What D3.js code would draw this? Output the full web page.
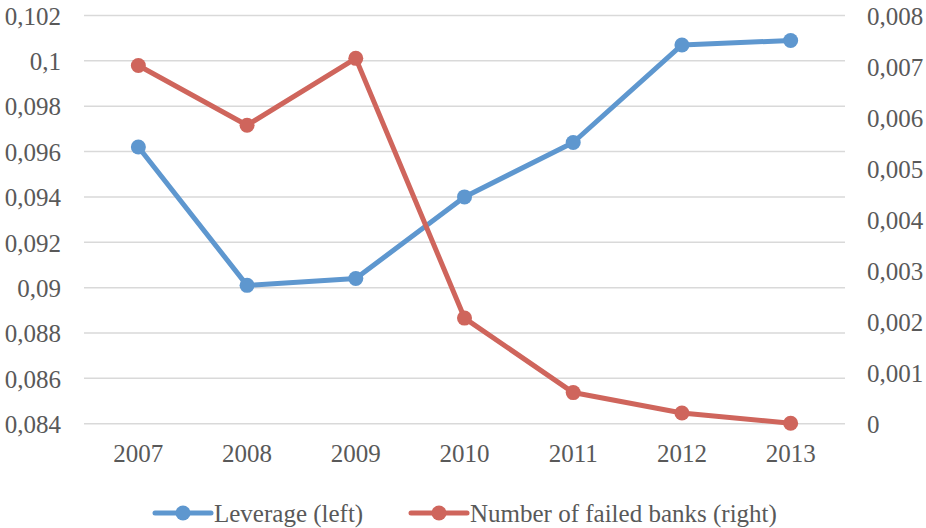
<!DOCTYPE html>
<html>
<head>
<meta charset="utf-8">
<script src="https://cdn.jsdelivr.net/npm/d3@7"></script>
<style>
    body { margin: 0; background: #fff; }
    text { font-family: "Liberation Serif", "DejaVu Serif", serif; fill: #595959; }
</style>
</head>
<body>
<div id="chart"></div>
<script>
// chart data
const years = ["2007", "2008", "2009", "2010", "2011", "2012", "2013"];
const leverage = [0.0962, 0.0901, 0.0904, 0.0940, 0.0964, 0.1007, 0.1009];
const failedBanks = [0.00702, 0.00585, 0.00716, 0.00207, 0.00061, 0.00021, 0.00001];
const leftTicks = [0.084, 0.086, 0.088, 0.09, 0.092, 0.094, 0.096, 0.098, 0.1, 0.102];
const rightTicks = [0, 0.001, 0.002, 0.003, 0.004, 0.005, 0.006, 0.007, 0.008];
const seriesNames = ["Leverage (left)", "Number of failed banks (right)"];

const width = 926, height = 528;
const margin = { top: 15.5, right: 81, bottom: 104.3, left: 84 };
const blue = "#5e97cf", red = "#cf655c";
const fontSize = 25;

const svg = d3.select("#chart").append("svg")
    .attr("width", width)
    .attr("height", height);

const x = d3.scaleBand()
    .domain(years)
    .range([margin.left, width - margin.right]);

const yLeft = d3.scaleLinear()
    .domain([0.084, 0.102])
    .range([height - margin.bottom, margin.top]);

const yRight = d3.scaleLinear()
    .domain([0, 0.008])
    .range([height - margin.bottom, margin.top]);

const fmt = d => String(+d.toFixed(3)).replace(".", ",");

// gridlines
svg.append("g")
    .selectAll("line")
    .data(leftTicks)
    .enter().append("line")
    .attr("x1", margin.left)
    .attr("x2", width - margin.right)
    .attr("y1", d => yLeft(d))
    .attr("y2", d => yLeft(d))
    .attr("stroke", "#d9d9d9")
    .attr("stroke-width", 1.5);

// left axis
const leftAxis = svg.append("g")
    .attr("transform", "translate(" + (margin.left - 23) + ",0)")
    .call(d3.axisLeft(yLeft).tickValues(leftTicks).tickFormat(fmt).tickSize(0).tickPadding(0));
leftAxis.select(".domain").remove();
leftAxis.selectAll("text").style("font-size", fontSize + "px").attr("dy", "0.35em");

// right axis
const rightAxis = svg.append("g")
    .attr("transform", "translate(" + (width - margin.right + 22) + ",0)")
    .call(d3.axisRight(yRight).tickValues(rightTicks).tickFormat(d => d === 0 ? "0" : fmt(d)).tickSize(0).tickPadding(0));
rightAxis.select(".domain").remove();
rightAxis.selectAll("text").style("font-size", fontSize + "px").attr("dy", "0.35em");

// x axis
const xAxis = svg.append("g")
    .attr("transform", "translate(0," + (height - margin.bottom + 30) + ")")
    .call(d3.axisBottom(x).tickSize(0).tickPadding(0));
xAxis.select(".domain").remove();
xAxis.selectAll("text").style("font-size", fontSize + "px").attr("dy", "0.35em");

const cx = d => x(d) + x.bandwidth() / 2;

function drawSeries(values, scale, color) {
    const line = d3.line()
        .x((d, i) => cx(years[i]))
        .y(d => scale(d));
    svg.append("path")
        .datum(values)
        .attr("fill", "none")
        .attr("stroke", color)
        .attr("stroke-width", 5)
        .attr("stroke-linejoin", "round")
        .attr("d", line);
    svg.append("g")
        .selectAll("circle")
        .data(values)
        .enter().append("circle")
        .attr("cx", (d, i) => cx(years[i]))
        .attr("cy", d => scale(d))
        .attr("r", 7.5)
        .attr("fill", color);
}

drawSeries(leverage, yLeft, blue);
drawSeries(failedBanks, yRight, red);

// legend
const legend = [
    { name: seriesNames[0], color: blue, x: 155 },
    { name: seriesNames[1], color: red, x: 411 }
];
const ly = 513;
const lg = svg.append("g").selectAll("g")
    .data(legend)
    .enter().append("g")
    .attr("transform", d => "translate(" + d.x + "," + ly + ")");
lg.append("line")
    .attr("x1", 0).attr("x2", 56)
    .attr("stroke", d => d.color)
    .attr("stroke-width", 5)
    .attr("stroke-linecap", "round");
lg.append("circle")
    .attr("cx", 28).attr("r", 7.5)
    .attr("fill", d => d.color);
lg.append("text")
    .attr("x", 59)
    .attr("dy", "0.35em")
    .style("font-size", fontSize + "px")
    .text(d => d.name);
</script>
</body>
</html>
